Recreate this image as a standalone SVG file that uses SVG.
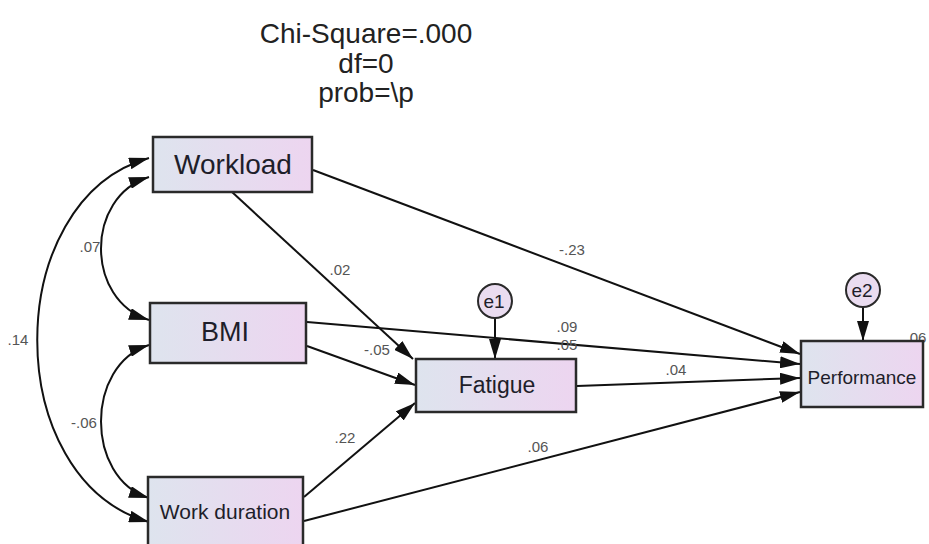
<svg xmlns="http://www.w3.org/2000/svg" width="929" height="544" viewBox="0 0 929 544">
<style>
.box{stroke:#2a2a2a;stroke-width:2.5;fill:url(#g)}
.circ{stroke:#2a2a2a;stroke-width:2;fill:#eadcf0}
.lbl{font-family:"Liberation Sans",Arial,sans-serif;fill:#1e1e2a;text-anchor:middle}
.num{font-family:"Liberation Sans",Arial,sans-serif;font-size:15px;fill:#555;text-anchor:middle}
.title{font-family:"Liberation Sans",Arial,sans-serif;font-size:28px;fill:#222;text-anchor:middle}
.ln{stroke:#111;stroke-width:2;fill:none;marker-end:url(#ah)}
.cv{stroke:#111;stroke-width:2;fill:none;marker-end:url(#ah);marker-start:url(#ah)}
</style>
<defs>
<linearGradient id="g" x1="0" y1="0" x2="1" y2="0">
<stop offset="0" stop-color="#dee4ee"/>
<stop offset="1" stop-color="#edd5f0"/>
</linearGradient>
<marker id="ah" viewBox="0 0 20 12" refX="20" refY="6" markerWidth="20" markerHeight="12" markerUnits="userSpaceOnUse" orient="auto-start-reverse">
<path d="M0,0 L20,6 L0,12 Z" fill="#111"/>
</marker>
</defs>
<rect width="929" height="544" fill="#fff"/>
<text class="title" x="366" y="43">Chi-Square=.000</text>
<text class="title" x="366" y="73">df=0</text>
<text class="title" x="366" y="102">prob=\p</text>
<g id="connectors">
<path class="ln" d="M313,170 L800,354"/>
<path class="ln" d="M232,192 L413,359"/>
<path class="ln" d="M307,322 L800,364"/>
<path class="ln" d="M307,346 L415,385"/>
<path class="ln" d="M577,386 L800,378"/>
<path class="ln" d="M304,497 L415,403"/>
<path class="ln" d="M304,521 L800,392"/>
<path class="ln" d="M495,318 L495,359"/>
<path class="ln" d="M863,307 L863,341"/>
<path class="cv" d="M149,177 C85,197 85,300 149,320"/>
<path class="cv" d="M149,345 C85,365 85,478 149,498"/>
<path class="cv" d="M149,158 C0,200 0,480 149,522"/>
<text class="num" x="90" y="252">.07</text>
<text class="num" x="84" y="428">-.06</text>
<text class="num" x="18" y="345">.14</text>
<text class="num" x="572" y="255">-.23</text>
<text class="num" x="340" y="275">.02</text>
<text class="num" x="567" y="332">.09</text>
<text class="num" x="567" y="350">.05</text>
<text class="num" x="377" y="355">-.05</text>
<text class="num" x="676" y="375">.04</text>
<text class="num" x="345" y="443">.22</text>
<text class="num" x="538" y="452">.06</text>
<text class="num" x="916" y="343">.06</text>
</g>
<g id="workload"><rect class="box" x="153" y="137" width="159" height="55"/><text class="lbl" x="233" y="174" font-size="28">Workload</text></g>
<g id="bmi"><rect class="box" x="150" y="303" width="156" height="60"/><text class="lbl" x="225" y="341" font-size="27">BMI</text></g>
<g id="workduration"><rect class="box" x="148" y="477" width="155" height="70"/><text class="lbl" x="225" y="519" font-size="21">Work duration</text></g>
<g id="fatigue"><rect class="box" x="416" y="359" width="160" height="53"/><text class="lbl" x="497" y="393" font-size="23">Fatigue</text></g>
<g id="performance"><rect class="box" x="801" y="341" width="122" height="66"/><text class="lbl" x="862" y="384" font-size="19">Performance</text></g>
<g id="e1"><circle class="circ" cx="495" cy="301" r="17"/><text class="lbl" x="494" y="308" font-size="19">e1</text></g>
<g id="e2"><circle class="circ" cx="863" cy="290" r="17"/><text class="lbl" x="862" y="297" font-size="19">e2</text></g>
</svg>
